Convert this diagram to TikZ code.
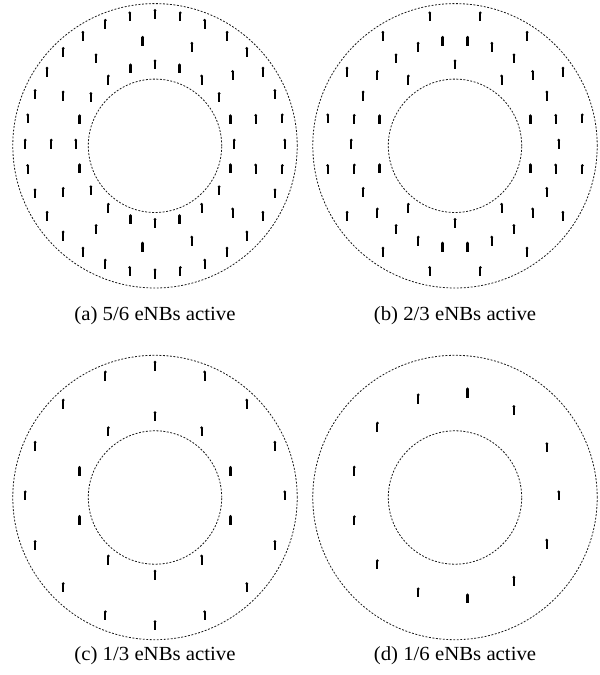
\documentclass[tikz,border=0pt]{standalone}
\usepackage{fontspec}
\setmainfont{Liberation Serif}[FakeStretch=1.04]
\usetikzlibrary{calc}
\begin{document}
\begin{tikzpicture}[x=1pt,y=1pt,
  ring/.style={draw=black!90, line width=0.8pt, dash pattern=on 1.9pt off 1.6pt},
  caption/.style={font=\fontsize{20}{24}\selectfont, anchor=base, inner sep=0pt},
  antenna/.pic={\fill[black] (-1.1,-5) rectangle (1.1,3.4); \fill[black] (0,3.6) circle (1.5);}]
\useasboundingbox (0,0) rectangle (600,675);
\coordinate (A) at (155,529.2);
\coordinate (B) at (455,529.2);
\coordinate (C) at (155,177.5);
\coordinate (D) at (455,177.5);
\foreach \c in {A,B,C,D} {
  \draw[ring] (\c) circle (142.2);
  \draw[ring] (\c) circle (66.7);
}
% (a) 5/6 active
\foreach \k in {0,...,31} \pic at ($(A)+({\k*11.25}:129.8)+(0,2)$) {antenna};
\foreach \k in {0,...,19} \pic at ($(A)+({\k*18}:79.3)+(0,2)$) {antenna};
\foreach \k in {0,...,12} \pic at ($(A)+({(2*\k+1)*360/26}:103.7)+(0,2)$) {antenna};
% (b) 2/3 active
\foreach \k in {0,...,15} \pic at ($(B)+({11.25+\k*22.5}:129.8)+(0,2)$) {antenna};
\foreach \k in {0,...,9} \pic at ($(B)+({18+\k*36}:79.3)+(0,2)$) {antenna};
\foreach \k in {0,...,25} \pic at ($(B)+({\k*360/26}:103.7)+(0,2)$) {antenna};
% (c) 1/3 active
\foreach \k in {0,...,15} \pic at ($(C)+({\k*22.5}:129.8)+(0,2)$) {antenna};
\foreach \k in {0,...,9} \pic at ($(C)+({18+\k*36}:79.3)+(0,2)$) {antenna};
% (d) 1/6 active
\foreach \k in {0,...,12} \pic at ($(D)+({2*\k*360/26}:103.7)+(0,2)$) {antenna};
% captions
\node[caption] (capA) at (155,354) {(a) 5/6 eNBs active};
\node[caption] (capB) at (455,354) {(b) 2/3 eNBs active};
\node[caption] (capC) at (155,14) {(c) 1/3 eNBs active};
\node[caption] (capD) at (455,14) {(d) 1/6 eNBs active};
\end{tikzpicture}
\end{document}
